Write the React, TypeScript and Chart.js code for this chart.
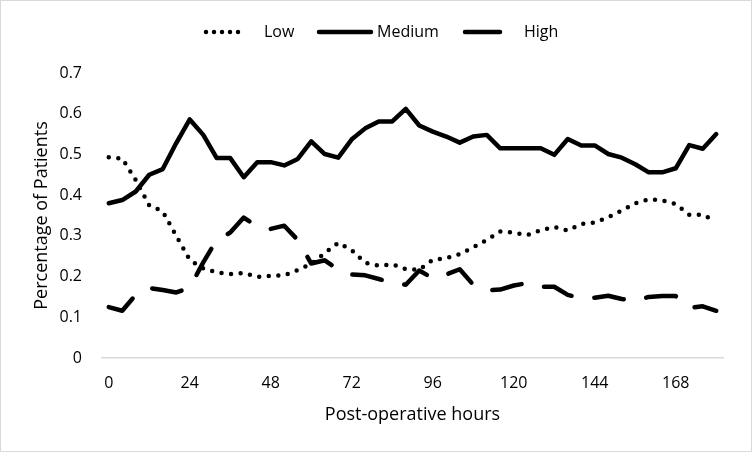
import React, { useEffect, useRef } from "react";
import { Chart, registerables } from "chart.js";

Chart.register(...registerables);

// Categories: post-operative hours (one point every 4 hours)
const hours = [
  "0", "4", "8", "12", "16", "20", "24", "28", "32", "36", "40", "44",
  "48", "52", "56", "60", "64", "68", "72", "76", "80", "84", "88", "92",
  "96", "100", "104", "108", "112", "116", "120", "124", "128", "132", "136", "140",
  "144", "148", "152", "156", "160", "164", "168", "172", "176", "180",
];

// Tick labels shown on the x axis
const xTickLabels = ["0", "24", "48", "72", "96", "120", "144", "168"];

const seriesNames = ["Low", "Medium", "High"];

const lowValues = [
  0.493, 0.49, 0.437, 0.375, 0.36, 0.3, 0.241, 0.22, 0.21, 0.206, 0.209, 0.199,
  0.202, 0.203, 0.216, 0.231, 0.258, 0.283, 0.265, 0.234, 0.227, 0.23, 0.218, 0.217,
  0.241, 0.245, 0.255, 0.272, 0.29, 0.311, 0.308, 0.302, 0.314, 0.322, 0.313, 0.329,
  0.333, 0.346, 0.362, 0.38, 0.39, 0.387, 0.378, 0.352, 0.352, 0.335,
];

const mediumValues = [
  0.38, 0.388, 0.409, 0.45, 0.464, 0.528, 0.586, 0.548, 0.491, 0.491, 0.444, 0.481,
  0.481, 0.473, 0.489, 0.532, 0.501, 0.492, 0.537, 0.564, 0.581, 0.581, 0.612, 0.571,
  0.556, 0.544, 0.529, 0.544, 0.548, 0.515, 0.515, 0.515, 0.515, 0.499, 0.538, 0.522,
  0.522, 0.501, 0.492, 0.476, 0.456, 0.456, 0.466, 0.523, 0.514, 0.55,
];

const highValues = [
  0.125, 0.116, 0.155, 0.172, 0.167, 0.161, 0.173, 0.235, 0.29, 0.308, 0.345, 0.323,
  0.317, 0.325, 0.29, 0.232, 0.24, 0.217, 0.205, 0.203, 0.194, 0.185, 0.18, 0.215,
  0.196, 0.205, 0.218, 0.18, 0.166, 0.168, 0.178, 0.184, 0.175, 0.175, 0.155, 0.147,
  0.148, 0.153, 0.145, 0.14, 0.15, 0.152, 0.152, 0.123, 0.127, 0.116,
];

const FONT = '"Open Sans", "Liberation Sans", sans-serif';
const LINE_W = 4.5;
const LOW_DASH = [0, 9.6];
const HIGH_DASH = [30, 23];

const frameAndLegend = {
  id: "frameAndLegend",
  beforeDraw(chart: any) {
    const ctx = chart.ctx;
    ctx.save();
    ctx.fillStyle = "#ffffff";
    ctx.fillRect(0, 0, chart.width, chart.height);
    ctx.strokeStyle = "#d9d9d9";
    ctx.lineWidth = 1;
    ctx.strokeRect(0.5, 0.5, chart.width - 1, chart.height - 1);
    ctx.restore();
  },
  afterDraw(chart: any) {
    const ctx = chart.ctx;
    const y = 32;
    const items = [
      { name: seriesNames[0], x0: 206, x1: 246, dash: [0, 8], textX: 264 },
      { name: seriesNames[1], x0: 319, x1: 371, dash: [], textX: 377 },
      { name: seriesNames[2], x0: 465, x1: 500, dash: [], textX: 524 },
    ];
    ctx.save();
    ctx.strokeStyle = "#000";
    ctx.lineWidth = LINE_W;
    ctx.lineCap = "round";
    items.forEach((it) => {
      ctx.setLineDash(it.dash);
      ctx.beginPath();
      ctx.moveTo(it.x0, y);
      ctx.lineTo(it.x1, y);
      ctx.stroke();
    });
    ctx.setLineDash([]);
    ctx.fillStyle = "#000";
    ctx.font = `16px ${FONT}`;
    ctx.textBaseline = "middle";
    ctx.textAlign = "left";
    items.forEach((it) => ctx.fillText(it.name, it.textX, y));
    ctx.restore();
  },
};

export default function App() {
  const ref = useRef<HTMLCanvasElement | null>(null);

  useEffect(() => {
    document.body.style.margin = "0";
    const canvas = ref.current;
    if (!canvas) return;
    const mk = (label: string, data: number[], dash: number[]) => ({
      label,
      data,
      borderColor: "#000",
      backgroundColor: "#000",
      borderWidth: LINE_W,
      borderDash: dash,
      borderCapStyle: "round" as const,
      borderJoinStyle: "round" as const,
      pointRadius: 0,
      pointHoverRadius: 0,
      tension: 0,
      fill: false,
    });
    const chart = new Chart(canvas, {
      type: "line",
      data: {
        labels: hours,
        datasets: [
          mk(seriesNames[0], lowValues, LOW_DASH),
          mk(seriesNames[1], mediumValues, []),
          mk(seriesNames[2], highValues, HIGH_DASH),
        ],
      },
      options: {
        responsive: false,
        animation: false,
        devicePixelRatio: 1,
        layout: { padding: { top: 73, right: 29, bottom: 0, left: 0 } },
        plugins: {
          legend: { display: false },
          tooltip: { enabled: false },
          title: { display: false },
        },
        scales: {
          x: {
            type: "category",
            offset: true,
            grid: { display: false, drawTicks: false },
            border: { display: true, color: "#d9d9d9", width: 1.5 },
            ticks: {
              autoSkip: false,
              maxRotation: 0,
              minRotation: 0,
              padding: 16,
              color: "#000",
              font: { family: FONT, size: 16 },
              callback: (_v: any, i: number) =>
                xTickLabels.includes(hours[i]) ? hours[i] : "",
            },
            title: {
              display: true,
              text: "Post-operative hours",
              color: "#000",
              font: { family: FONT, size: 18, lineHeight: 1.2 },
              padding: { top: 0, bottom: 26 },
            },
            afterFit: (s: any) => {
              s.height = 94;
            },
          },
          y: {
            min: 0,
            max: 0.7,
            grid: { display: false, drawTicks: false },
            border: { display: false },
            ticks: {
              stepSize: 0.1,
              padding: 20,
              color: "#000",
              font: { family: FONT, size: 16 },
              callback: (v: any) => (Number(v) === 0 ? "0" : Number(v).toFixed(1)),
            },
            title: {
              display: true,
              text: "Percentage of Patients",
              color: "#000",
              font: { family: FONT, size: 18, lineHeight: 1.2 },
              padding: { top: 31, bottom: 0 },
            },
            afterFit: (s: any) => {
              s.width = 102;
            },
          },
        },
      },
      plugins: [frameAndLegend],
    });
    return () => chart.destroy();
  }, []);

  return (
    <div style={{ width: 752, height: 452 }}>
      <canvas ref={ref} width={752} height={452} style={{ display: "block", width: 752, height: 452 }} />
    </div>
  );
}
